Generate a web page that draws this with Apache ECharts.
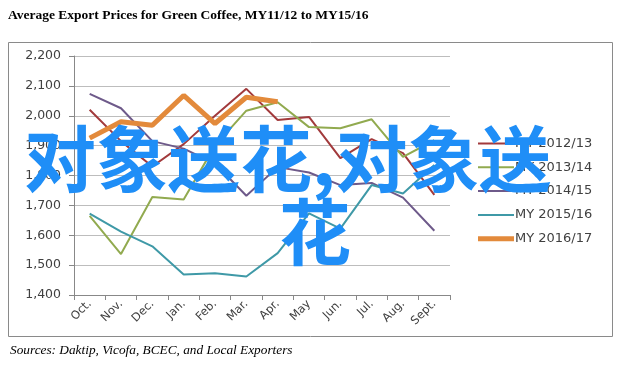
<!DOCTYPE html>
<html>
<head>
<meta charset="utf-8">
<script src="https://cdn.jsdelivr.net/npm/echarts@6/dist/echarts.min.js"></script>
<style>
html,body{margin:0;padding:0;background:#fff;}
#chart{width:628px;height:372px;}
</style>
</head>
<body>
<div id="chart"></div>
<script>
var categories = ['Oct.','Nov.','Dec.','Jan.','Feb.','Mar.','Apr.','May','Jun.','Jul.','Aug.','Sept.'];
var seriesNames = ['MY 2012/13','MY 2013/14','MY 2014/15','MY 2015/16','MY 2016/17'];
var my1213 = [2020, 1915, 1830, 1905, 2000, 2090, 1986, 1996, 1858, 1922, 1875, 1735];
var my1314 = [1665, 1537, 1728, 1720, 1900, 2017, 2045, 1962, 1958, 1988, 1862, 1918];
var my1415 = [2073, 2025, 1915, 1890, 1840, 1732, 1828, 1810, 1768, 1775, 1726, 1615];
var my1516 = [1672, 1612, 1563, 1469, 1473, 1462, 1540, 1673, 1622, 1768, 1740, 1835];
var my1617 = [1925, 1980, 1968, 2068, 1974, 2062, 2047];
var yTicks = { min: 1400, max: 2200, step: 100 };
var titleText = 'Average Export Prices for Green Coffee, MY11/12 to MY15/16';
var sourceText = 'Sources: Daktip, Vicofa, BCEC, and Local Exporters';
var watermark1 = '对象送花,对象送';
var watermark2 = '花';

var colors = ['#A23A3C', '#91AA4F', '#6E5A8A', '#3F99A7', '#E38A3B'];
var widths = [2, 2, 2, 2, 5];
var allData = [my1213, my1314, my1415, my1516, my1617];

var chart = echarts.init(document.getElementById('chart'));
var series = seriesNames.map(function (n, i) {
  return {
    name: n, type: 'line', data: allData[i], symbol: 'none',
    lineStyle: { color: colors[i], width: widths[i] },
    itemStyle: { color: colors[i] },
    z: i === 4 ? 3 : 2, animation: false
  };
});
var legendData = seriesNames.map(function (n, i) {
  return { name: n, icon: widths[i] > 3 ? 'path://M0 0H36V5H0Z' : 'path://M0 0H36V2H0Z' };
});
var axisFont = 'DejaVu Sans';
chart.setOption({
  animation: false,
  title: {
    text: titleText, left: 8, top: 9, padding: 0,
    textStyle: { fontFamily: 'Liberation Serif', fontWeight: 'bold', fontSize: 13.5, color: '#000' }
  },
  grid: { left: 74, top: 56, width: 376, height: 239 },
  xAxis: {
    type: 'category', data: categories, boundaryGap: true,
    axisLine: { lineStyle: { color: '#888888' } },
    axisTick: { show: true, length: 5, lineStyle: { color: '#888888' } },
    axisLabel: { rotate: 45, fontFamily: axisFont, fontSize: 11.5, color: '#404040', margin: 7 },
    splitLine: { show: false }
  },
  yAxis: {
    type: 'value', min: yTicks.min, max: yTicks.max, interval: yTicks.step,
    axisLine: { show: true, lineStyle: { color: '#888888' } },
    axisTick: { show: true, length: 5, lineStyle: { color: '#888888' } },
    axisLabel: {
      fontFamily: axisFont, fontSize: 12.5, color: '#404040', margin: 13,
      formatter: function (v) { return v.toLocaleString('en-US'); }
    },
    splitLine: { lineStyle: { color: '#BDBDBD' } }
  },
  legend: {
    orient: 'vertical', left: 478, top: 137, padding: 0, itemWidth: 36, itemHeight: 14, itemGap: 10.8,
    symbolKeepAspect: true,
    data: legendData,
    textStyle: { fontFamily: axisFont, fontSize: 13, color: '#404040', padding: [0, 0, 0, -4] }
  },
  series: series,
  graphic: [
    { type: 'rect', shape: { x: 8.5, y: 42.5, width: 604, height: 294 }, style: { fill: 'none', stroke: '#8A8A8A', lineWidth: 1 }, z: -1 },
    { type: 'text', x: 10, y: 344, style: { text: sourceText, font: 'italic 13.3px "Liberation Serif"', fill: '#000' } },
    { type: 'text', x: 24, y: 159, z: 100, style: { text: watermark1, font: 'bold 72px "Noto Sans CJK SC"', fill: '#1F8EF7', textVerticalAlign: 'middle' } },
    { type: 'text', x: 279, y: 232, z: 100, style: { text: watermark2, font: 'bold 72px "Noto Sans CJK SC"', fill: '#1F8EF7', textVerticalAlign: 'middle' } }
  ]
});
</script>
</body>
</html>
